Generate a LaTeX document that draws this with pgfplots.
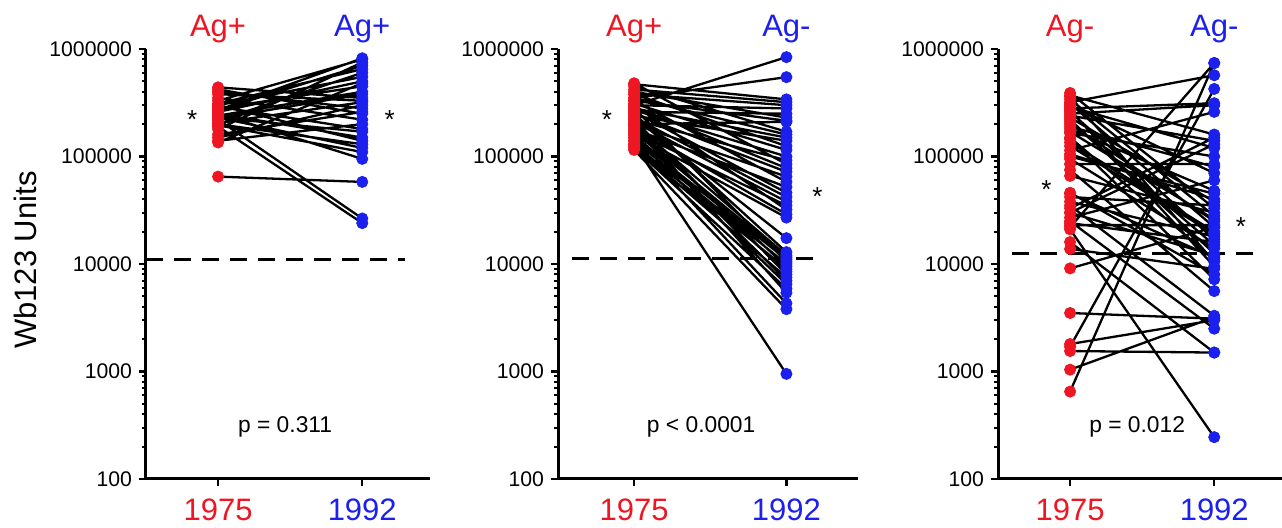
\documentclass[border=0pt]{standalone}
\usepackage{pgfplots}
\pgfplotsset{compat=1.18}
\usepackage{pgfplotstable}
\usepackage{fontspec}
\setmainfont{Liberation Sans}
\definecolor{agred}{RGB}{238,22,34}
\definecolor{agblue}{RGB}{28,32,238}
\newcommand\bigfont{\fontsize{15.5}{18}\selectfont}
\newcommand\tickfont{\fontsize{10.6}{13}\selectfont}
\newcommand\pfont{\fontsize{11.4}{13}\selectfont}
\newcommand\astfont{\fontsize{13}{15}\selectfont}

% each pair: x=0 (1975), x=1 (1992), then a nan row to break the line
\pgfplotstableread{
x y
0 65000
1 58000
0 nan
0 190000
1 24000
0 nan
0 220000
1 26500
0 nan
0 420000
1 250000
0 nan
0 400000
1 280000
0 nan
0 380000
1 330000
0 nan
0 350000
1 220000
0 nan
0 330000
1 800000
0 nan
0 310000
1 650000
0 nan
0 300000
1 550000
0 nan
0 290000
1 180000
0 nan
0 280000
1 450000
0 nan
0 270000
1 700000
0 nan
0 260000
1 500000
0 nan
0 250000
1 150000
0 nan
0 240000
1 400000
0 nan
0 230000
1 120000
0 nan
0 225000
1 380000
0 nan
0 215000
1 600000
0 nan
0 205000
1 320000
0 nan
0 200000
1 130000
0 nan
0 195000
1 110000
0 nan
0 180000
1 750000
0 nan
0 160000
1 260000
0 nan
0 150000
1 300000
0 nan
0 140000
1 200000
0 nan
0 135000
1 480000
0 nan
0 440000
1 350000
0 nan
0 250000
1 95000
0 nan
0 300000
1 140000
0 nan
0 230000
1 170000
0 nan
0 270000
1 820000
}\tabA

\pgfplotstableread{
x y
0 300000
1 840000
0 nan
0 350000
1 547000
0 nan
0 470000
1 340000
0 nan
0 420000
1 320000
0 nan
0 380000
1 300000
0 nan
0 300000
1 280000
0 nan
0 260000
1 250000
0 nan
0 400000
1 230000
0 nan
0 330000
1 215000
0 nan
0 200000
1 210000
0 nan
0 450000
1 170000
0 nan
0 350000
1 160000
0 nan
0 280000
1 150000
0 nan
0 240000
1 140000
0 nan
0 380000
1 125000
0 nan
0 310000
1 115000
0 nan
0 270000
1 100000
0 nan
0 220000
1 92000
0 nan
0 480000
1 85000
0 nan
0 290000
1 78000
0 nan
0 250000
1 72000
0 nan
0 200000
1 65000
0 nan
0 330000
1 58000
0 nan
0 180000
1 52000
0 nan
0 260000
1 46000
0 nan
0 230000
1 42000
0 nan
0 210000
1 38000
0 nan
0 170000
1 35000
0 nan
0 300000
1 32000
0 nan
0 190000
1 29000
0 nan
0 160000
1 27000
0 nan
0 230000
1 17400
0 nan
0 250000
1 12900
0 nan
0 200000
1 12000
0 nan
0 170000
1 11500
0 nan
0 150000
1 11000
0 nan
0 280000
1 10500
0 nan
0 140000
1 10000
0 nan
0 190000
1 9500
0 nan
0 130000
1 9000
0 nan
0 160000
1 8500
0 nan
0 220000
1 8000
0 nan
0 125000
1 7500
0 nan
0 180000
1 7000
0 nan
0 150000
1 6500
0 nan
0 120000
1 5900
0 nan
0 200000
1 5400
0 nan
0 140000
1 4300
0 nan
0 115000
1 3800
0 nan
0 130000
1 950
}\tabB

\pgfplotstableread{
x y
0 650
1 740000
0 nan
0 1040
1 3200
0 nan
0 1550
1 1500
0 nan
0 1800
1 3000
0 nan
0 1700
1 425000
0 nan
0 3500
1 3100
0 nan
0 9100
1 22000
0 nan
0 13800
1 9000
0 nan
0 16000
1 1500
0 nan
0 21000
1 245
0 nan
0 25000
1 2500
0 nan
0 22000
1 740000
0 nan
0 23000
1 23000
0 nan
0 24000
1 16000
0 nan
0 27000
1 60000
0 nan
0 30000
1 12000
0 nan
0 33000
1 150000
0 nan
0 38000
1 18000
0 nan
0 42000
1 35000
0 nan
0 46000
1 8000
0 nan
0 66000
1 30000
0 nan
0 75000
1 5600
0 nan
0 85000
1 85000
0 nan
0 95000
1 14000
0 nan
0 105000
1 40000
0 nan
0 114000
1 260000
0 nan
0 135000
1 20000
0 nan
0 150000
1 11000
0 nan
0 165000
1 100000
0 nan
0 180000
1 48000
0 nan
0 200000
1 25000
0 nan
0 220000
1 12500
0 nan
0 240000
1 140000
0 nan
0 260000
1 17000
0 nan
0 280000
1 313000
0 nan
0 300000
1 70000
0 nan
0 320000
1 570000
0 nan
0 340000
1 28000
0 nan
0 360000
1 10500
0 nan
0 390000
1 33000
0 nan
0 370000
1 160000
0 nan
0 310000
1 22000
0 nan
0 290000
1 120000
0 nan
0 270000
1 9500
0 nan
0 250000
1 300000
0 nan
0 230000
1 38000
0 nan
0 210000
1 15000
0 nan
0 190000
1 80000
0 nan
0 170000
1 26000
0 nan
0 145000
1 7200
0 nan
0 125000
1 19000
0 nan
0 100000
1 45000
0 nan
0 30000
1 130000
0 nan
0 35000
1 3300
0 nan
0 45000
1 11500
}\tabC

\begin{document}
\begin{tikzpicture}
\path[use as bounding box] (-73pt,-24.5pt) rectangle (568pt,239.5pt);

% Panel 1
\begin{semilogyaxis}[
  scale only axis, width=142pt, height=215pt, at={(0pt,0pt)},
  ymin=100, ymax=1000000, xmin=-0.5, xmax=1.47,
  axis x line=bottom, axis y line=left,
  axis line style={-, line width=1.5pt, black},
  xtick={0,1}, xticklabels={\textcolor{agred}{1975},\textcolor{agblue}{1992}},
  ytick={100,1000,10000,100000,1000000},
  yticklabels={\tickfont 100,\tickfont 1000,\tickfont 10000,\tickfont 100000,\tickfont 1000000},
  minor ytick={200,300,400,500,600,700,800,900,2000,3000,4000,5000,6000,7000,8000,9000,20000,30000,40000,50000,60000,70000,80000,90000,200000,300000,400000,500000,600000,700000,800000,900000},
  tick align=outside, major tick length=3.5pt, minor tick length=1.8pt,
  every major tick/.append style={black, line width=1.2pt},
  every minor tick/.append style={black, line width=1pt},
  xticklabel style={font=\bigfont, yshift=-3pt},
  yticklabel style={font=\tickfont},
  clip=false, unbounded coords=jump,
]
\addplot[black, line width=1.5pt, dash pattern=on 8.5pt off 5.5pt] coordinates {(-0.5,10900) (1.3,10900)};
\addplot[black, line width=1.15pt, mark=none] table[x=x, y=y]{\tabA};
\addplot[only marks, mark=*, mark size=2.8pt, color=agred, restrict x to domain=-0.1:0.1] table[x=x, y=y]{\tabA};
\addplot[only marks, mark=*, mark size=2.8pt, color=agblue, restrict x to domain=0.9:1.1] table[x=x, y=y]{\tabA};
\node[anchor=base, font=\bigfont, text=agred] at (axis cs:0,1294000) {Ag+};
\node[anchor=base, font=\bigfont, text=agblue] at (axis cs:1,1294000) {Ag+};
\node[font=\astfont] at (axis cs:-0.18,219000) {*};
\node[font=\astfont] at (axis cs:1.19,219000) {*};
\node[anchor=base, font=\pfont] at (axis cs:0.465,268) {p = 0.311};
\node[rotate=90, font=\bigfont] at (rel axis cs:-0.426,0.509) {Wb123 Units};
\end{semilogyaxis}

% Panel 2
\begin{semilogyaxis}[
  scale only axis, width=150pt, height=215pt, at={(206pt,0pt)},
  ymin=100, ymax=1000000, xmin=-0.5, xmax=1.47,
  axis x line=bottom, axis y line=left,
  axis line style={-, line width=1.5pt, black},
  xtick={0,1}, xticklabels={\textcolor{agred}{1975},\textcolor{agblue}{1992}},
  ytick={100,1000,10000,100000,1000000},
  yticklabels={\tickfont 100,\tickfont 1000,\tickfont 10000,\tickfont 100000,\tickfont 1000000},
  minor ytick={200,300,400,500,600,700,800,900,2000,3000,4000,5000,6000,7000,8000,9000,20000,30000,40000,50000,60000,70000,80000,90000,200000,300000,400000,500000,600000,700000,800000,900000},
  tick align=outside, major tick length=3.5pt, minor tick length=1.8pt,
  every major tick/.append style={black, line width=1.2pt},
  every minor tick/.append style={black, line width=1pt},
  xticklabel style={font=\bigfont, yshift=-3pt},
  yticklabel style={font=\tickfont},
  clip=false, unbounded coords=jump,
]
\addplot[black, line width=1.5pt, dash pattern=on 8.5pt off 5.5pt] coordinates {(-0.41,11200) (1.23,11200)};
\addplot[black, line width=1.15pt, mark=none] table[x=x, y=y]{\tabB};
\addplot[only marks, mark=*, mark size=2.8pt, color=agred, restrict x to domain=-0.1:0.1] table[x=x, y=y]{\tabB};
\addplot[only marks, mark=*, mark size=2.8pt, color=agblue, restrict x to domain=0.9:1.1] table[x=x, y=y]{\tabB};
\node[anchor=base, font=\bigfont, text=agred] at (axis cs:0,1294000) {Ag+};
\node[anchor=base, font=\bigfont, text=agblue] at (axis cs:1,1294000) {Ag-};
\node[font=\astfont] at (axis cs:-0.178,219000) {*};
\node[font=\astfont] at (axis cs:1.204,42000) {*};
\node[anchor=base, font=\pfont] at (axis cs:0.44,268) {p < 0.0001};
\end{semilogyaxis}

% Panel 3
\begin{semilogyaxis}[
  scale only axis, width=142pt, height=215pt, at={(426pt,0pt)},
  ymin=100, ymax=1000000, xmin=-0.5, xmax=1.47,
  axis x line=bottom, axis y line=left,
  axis line style={-, line width=1.5pt, black},
  xtick={0,1}, xticklabels={\textcolor{agred}{1975},\textcolor{agblue}{1992}},
  ytick={100,1000,10000,100000,1000000},
  yticklabels={\tickfont 100,\tickfont 1000,\tickfont 10000,\tickfont 100000,\tickfont 1000000},
  minor ytick={200,300,400,500,600,700,800,900,2000,3000,4000,5000,6000,7000,8000,9000,20000,30000,40000,50000,60000,70000,80000,90000,200000,300000,400000,500000,600000,700000,800000,900000},
  tick align=outside, major tick length=3.5pt, minor tick length=1.8pt,
  every major tick/.append style={black, line width=1.2pt},
  every minor tick/.append style={black, line width=1pt},
  xticklabel style={font=\bigfont, yshift=-3pt},
  yticklabel style={font=\tickfont},
  clip=false, unbounded coords=jump,
]
\addplot[black, line width=1.5pt, dash pattern=on 8.5pt off 5.5pt] coordinates {(-0.40,12400) (1.33,12400)};
\addplot[black, line width=1.15pt, mark=none] table[x=x, y=y]{\tabC};
\addplot[only marks, mark=*, mark size=2.8pt, color=agred, restrict x to domain=-0.1:0.1] table[x=x, y=y]{\tabC};
\addplot[only marks, mark=*, mark size=2.8pt, color=agblue, restrict x to domain=0.9:1.1] table[x=x, y=y]{\tabC};
\node[anchor=base, font=\bigfont, text=agred] at (axis cs:0,1294000) {Ag-};
\node[anchor=base, font=\bigfont, text=agblue] at (axis cs:1,1294000) {Ag-};
\node[font=\astfont] at (axis cs:-0.164,48800) {*};
\node[font=\astfont] at (axis cs:1.185,22100) {*};
\node[anchor=base, font=\pfont] at (axis cs:0.465,268) {p = 0.012};
\end{semilogyaxis}
\end{tikzpicture}
\end{document}
